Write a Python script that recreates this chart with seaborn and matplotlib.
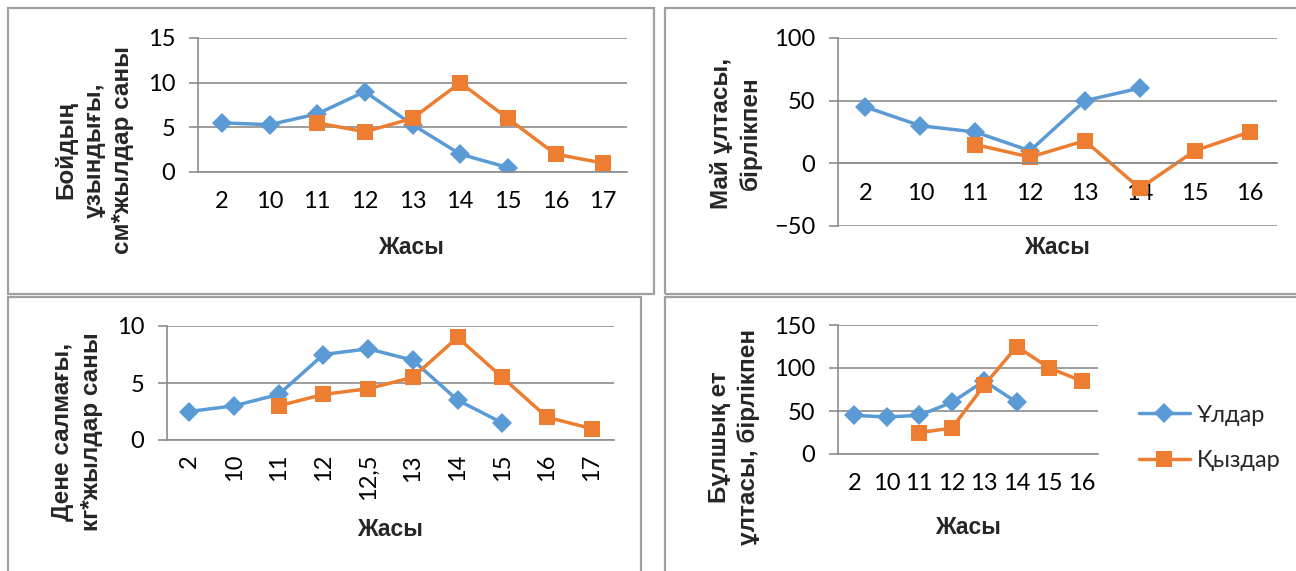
import numpy as np
import pandas as pd
import seaborn as sns
import matplotlib.pyplot as plt
from matplotlib.patches import Rectangle

nan = np.nan

# Height gain per year
height_ages = ["2", "10", "11", "12", "13", "14", "15", "16", "17"]
height_boys = [5.5, 5.3, 6.5, 9, 5.3, 2, 0.5, nan, nan]
height_girls = [nan, nan, 5.5, 4.5, 6, 10, 6, 2, 1]

# Fat mass, units
fat_ages = ["2", "10", "11", "12", "13", "14", "15", "16"]
fat_boys = [45, 30, 25, 10, 50, 60, nan, nan]
fat_girls = [nan, nan, 15, 5, 18, -20, 10, 25]

# Body weight gain per year
weight_ages = ["2", "10", "11", "12", "12,5", "13", "14", "15", "16", "17"]
weight_boys = [2.5, 3, 4, 7.5, 8, 7, 3.5, 1.5, nan, nan]
weight_girls = [nan, nan, 3, 4, 4.5, 5.5, 9, 5.5, 2, 1]

# Muscle mass, units
muscle_ages = ["2", "10", "11", "12", "13", "14", "15", "16"]
muscle_boys = [45, 43, 45, 60, 85, 60, nan, nan]
muscle_girls = [nan, nan, 25, 30, 80, 125, 100, 85]

series_names = ["Ұлдар", "Қыздар"]

BLUE = "#5B9BD5"
ORANGE = "#ED7D31"
GRID = "#8C8C8C"
FRAME = "#A0A0A0"
TICK_FONT = ["Lato", "DejaVu Sans"]
LABEL_FONT = ["Liberation Sans", "DejaVu Sans"]
TICK_SIZE = 17
LABEL_SIZE = 17.5

sns.set_style("white")
plt.rcParams["font.family"] = TICK_FONT

W, H = 1296, 571
fig = plt.figure(figsize=(W / 100, H / 100), dpi=100)


def px_rect(left, top, right, bottom):
    return [left / W, 1 - bottom / H, (right - left) / W, (bottom - top) / H]


def panel(rect, ages, boys, girls, ylim, yticks, rot=0, xpad=14, zero_axis=False):
    ax = fig.add_axes(px_rect(*rect))
    pos = np.arange(len(ages))
    df = pd.DataFrame({"pos": pos, series_names[0]: boys, series_names[1]: girls})
    sns.lineplot(data=df, x="pos", y=series_names[0], ax=ax, color=BLUE,
                 marker="D", markersize=10, linewidth=2.5,
                 markeredgewidth=0, legend=False)
    sns.lineplot(data=df, x="pos", y=series_names[1], ax=ax, color=ORANGE,
                 marker="s", markersize=11, linewidth=2.5,
                 markeredgewidth=0, legend=False)
    ax.set_xlim(-0.5, len(ages) - 0.5)
    ax.set_ylim(*ylim)
    ax.set_yticks(yticks)
    ax.set_xticks(pos)
    ax.set_xticklabels(ages, rotation=rot)
    ax.set_xlabel("")
    ax.set_ylabel("")
    ax.yaxis.grid(True, color=GRID, linewidth=1.2)
    ax.xaxis.grid(False)
    ax.set_axisbelow(True)
    for s in ["top", "right"]:
        ax.spines[s].set_visible(False)
    for s in ["left", "bottom"]:
        ax.spines[s].set_color(GRID)
        ax.spines[s].set_linewidth(1.2)
    if zero_axis:
        ax.spines["bottom"].set_position(("data", 0))
    ax.tick_params(axis="x", length=0, pad=xpad, labelsize=TICK_SIZE, colors="black")
    ax.tick_params(axis="y", length=6.5, width=1.2, color=GRID, pad=10,
                   labelsize=TICK_SIZE, labelcolor="black", left=True)
    return ax


ax1 = panel((198, 38, 627, 172), height_ages, height_boys, height_girls,
            (0, 15), [0, 5, 10, 15])
ax2 = panel((838, 38, 1277, 226), fat_ages, fat_boys, fat_girls,
            (-50, 100), [-50, 0, 50, 100], zero_axis=True)
ax3 = panel((167, 326, 614, 440), weight_ages, weight_boys, weight_girls,
            (0, 10), [0, 5, 10], rot=90, xpad=10)
ax4 = panel((838, 325, 1098, 454), muscle_ages, muscle_boys, muscle_girls,
            (0, 150), [0, 50, 100, 150])

# Legend beside the muscle-mass chart
handles = ax4.get_lines()[:2]
fig.legend(handles, series_names, loc="center left",
           bbox_to_anchor=(1139 / W, 1 - 438 / H), frameon=False,
           fontsize=17, handlelength=2.15, handletextpad=0.3,
           labelspacing=1.05, borderaxespad=0, borderpad=0)

# Axis titles
ylabels = [
    (94, 150, "Бойдың\nұзындығы,\nсм*жылдар саны"),
    (736, 133, "Май ұлтасы,\nбірлікпен"),
    (77, 432, "Дене салмағы,\nкг*жылдар саны"),
    (734, 437, "Бұлшық ет\nұлтасы, бірлікпен"),
]
for x, y, t in ylabels:
    fig.text(x / W, 1 - y / H, t, rotation=90, ha="center", va="center",
             multialignment="center", fontsize=LABEL_SIZE, fontweight="bold",
             family=LABEL_FONT, linespacing=1.3)

for x, y in [(411, 247), (1057, 247), (390, 530), (968, 528)]:
    fig.text(x / W, 1 - y / H, "Жасы", ha="center", va="center",
             fontsize=16.5, fontweight="bold", family=LABEL_FONT)

# Chart frames
for l, t, r, b in [(8, 8, 654, 294), (665, 8, 1300, 294),
                   (8, 297, 641, 575), (665, 297, 1300, 575)]:
    fig.add_artist(Rectangle((l / W, 1 - b / H), (r - l) / W, (b - t) / H,
                             transform=fig.transFigure, fill=False,
                             edgecolor=FRAME, linewidth=1.6))

fig.savefig("out.png", dpi=100)
